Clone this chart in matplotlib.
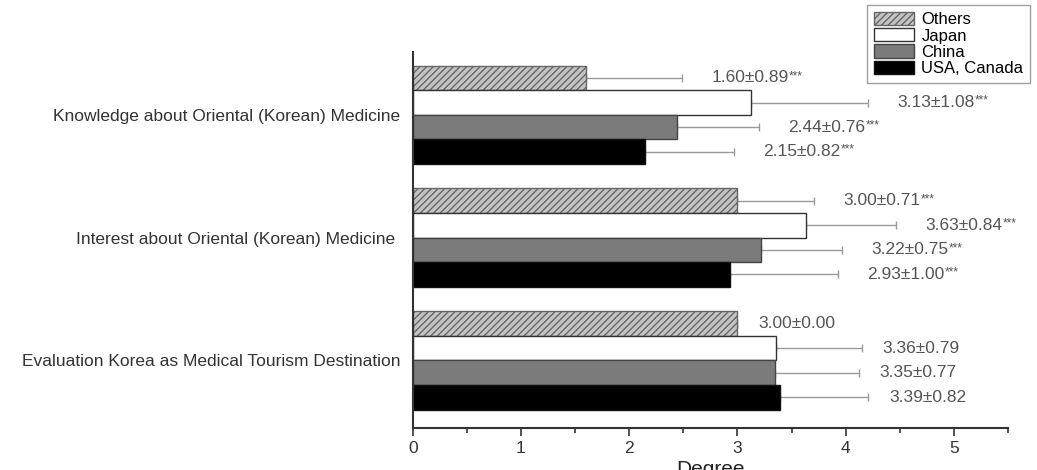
import matplotlib
matplotlib.use("Agg")
import matplotlib.pyplot as plt
import numpy as np
from matplotlib.patches import Patch

plt.rcParams['font.family'] = ['Liberation Sans', 'DejaVu Sans']

items = ["Evaluation Korea as Medical Tourism Destination",
         "Interest about Oriental (Korean) Medicine ",
         "Knowledge about Oriental (Korean) Medicine"]
series = ["Others", "Japan", "China", "USA, Canada"]
# values ordered as items (bottom -> top)
others_mean = [3.00, 3.00, 1.60]
others_sd = [0.00, 0.71, 0.89]
japan_mean = [3.36, 3.63, 3.13]
japan_sd = [0.79, 0.84, 1.08]
china_mean = [3.35, 3.22, 2.44]
china_sd = [0.77, 0.75, 0.76]
usa_mean = [3.39, 2.93, 2.15]
usa_sd = [0.82, 1.00, 0.82]
others_sig = ["", "***", "***"]
japan_sig = ["", "***", "***"]
china_sig = ["", "***", "***"]
usa_sig = ["", "***", "***"]

means = [others_mean, japan_mean, china_mean, usa_mean]
sds = [others_sd, japan_sd, china_sd, usa_sd]
sigs = [others_sig, japan_sig, china_sig, usa_sig]

FS = 12.5

fig = plt.figure(figsize=(10.37, 4.70), dpi=100)
ax = fig.add_axes([0.398, 0.0894, 0.574, 0.7996])

h = 0.2
offsets = [0.3, 0.1, -0.1, -0.3]
faces = ['#c4c4c4', 'white', '#7b7b7b', 'black']
edges = ['#666666', '#333333', '#444444', '#111111']
hatches = ['/////', None, None, None]
y = np.arange(len(items))

for i in range(4):
    ypos = y + offsets[i]
    ax.barh(ypos, means[i], height=h, color=faces[i], edgecolor=edges[i],
            hatch=hatches[i], linewidth=1.0, zorder=2)
    ax.errorbar(means[i], ypos, xerr=[np.zeros(3), sds[i]], fmt='none',
                ecolor='#9a9a9a', elinewidth=1.0, capsize=3, capthick=1.0, zorder=1)
    for j in range(3):
        end = means[i][j] + sds[i][j]
        off = 0.27 if sigs[i][j] else 0.19
        t = ax.text(end + off, ypos[j], f"{means[i][j]:.2f}\u00b1{sds[i][j]:.2f}",
                    ha='left', va='center', fontsize=FS, color='#555555')
        if sigs[i][j]:
            ax.annotate(sigs[i][j], xy=(1.0, 0.62), xycoords=t,
                        ha='left', va='center', fontsize=8.5, color='#555555')

ax.set_xlim(0, 5.5)
ax.set_ylim(-0.55, 2.51)
ax.set_yticks(y)
ax.set_yticklabels(items, fontsize=FS, color='#333333')
ax.tick_params(axis='y', length=0, pad=9)
ax.set_xticks([0, 1, 2, 3, 4, 5])
ax.set_xticks([0.5, 1.5, 2.5, 3.5, 4.5, 5.5], minor=True)
ax.tick_params(axis='x', which='major', length=6, width=1.2, colors='#333333', labelsize=FS)
ax.tick_params(axis='x', which='minor', length=3.5, width=1.2, color='#333333')
for s in ['top', 'right']:
    ax.spines[s].set_visible(False)
for s in ['left', 'bottom']:
    ax.spines[s].set_linewidth(1.5)
    ax.spines[s].set_color('#333333')

ax.set_xlabel("Degree", fontsize=15, labelpad=3, color='#222222')
fig.text(-0.006, 0.494, "Items", rotation=90, ha='center', va='center', fontsize=15, color='#222222')

handles = [Patch(facecolor=faces[i], edgecolor=edges[i], hatch=hatches[i]) for i in range(4)]
leg = fig.legend(handles, series, loc='upper right', bbox_to_anchor=(0.9932, 0.989),
                 borderaxespad=0.0,
                 fontsize=12, frameon=True, fancybox=False, handlelength=2.4, handleheight=0.85,
                 labelspacing=0.05, borderpad=0.4, handletextpad=0.45, edgecolor='#888888')
leg.get_frame().set_linewidth(1.0)

fig.savefig("out.png", dpi=100)
